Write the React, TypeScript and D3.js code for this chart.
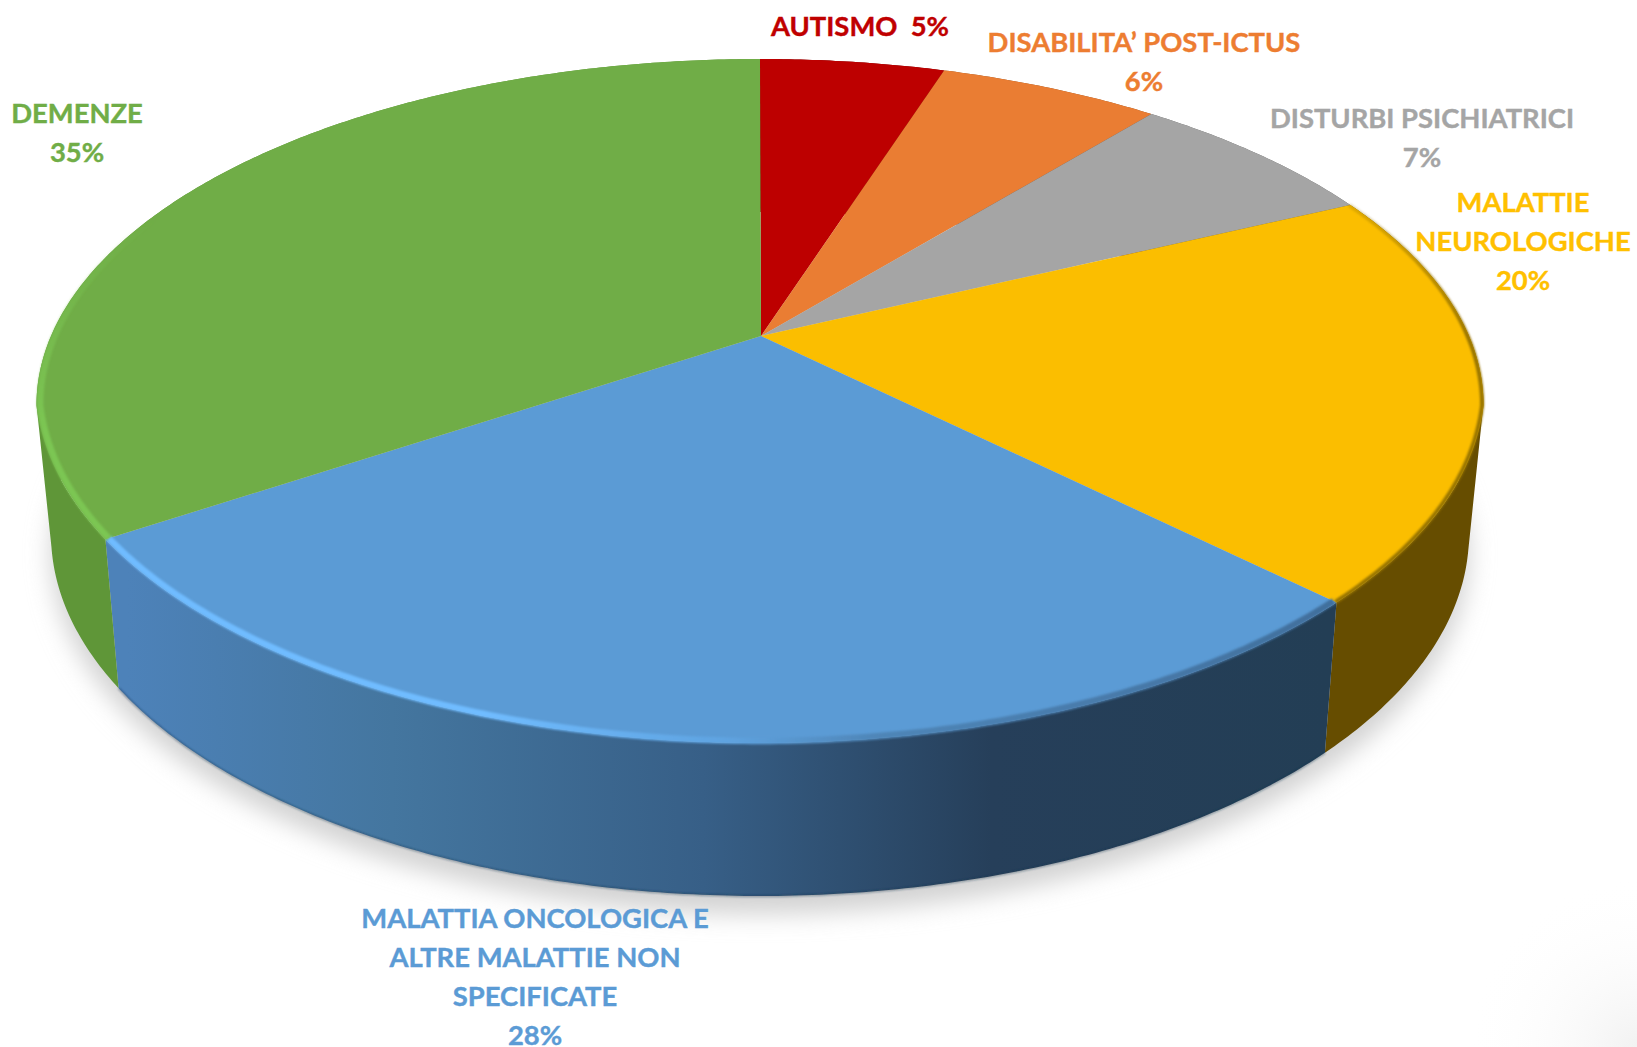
import React from "react";
import * as d3 from "d3";

// Share of each condition, clockwise from twelve o'clock
const categories = [
  "AUTISMO",
  "DISABILITA’ POST-ICTUS",
  "DISTURBI PSICHIATRICI",
  "MALATTIE NEUROLOGICHE",
  "MALATTIA ONCOLOGICA E ALTRE MALATTIE NON SPECIFICATE",
  "DEMENZE",
];
const percentages = [5, 6, 7, 20, 28, 35];

const faceColors = ["#bd0000", "#ea7d33", "#a5a5a5", "#fbbe00", "#5b9bd5", "#70ad47"];
const labelColors = ["#c00000", "#ed7d31", "#a5a5a5", "#ffc000", "#5b9bd5", "#70ad47"];
const wallFills = ["#730000", "#8c4b1e", "#636363", "#664d00", "url(#wallBlue)", "#5f9638"];

// Broken label lines and their anchor (centre x, first baseline)
const labelLines = [
  ["AUTISMO  5%"],
  ["DISABILITA’ POST-ICTUS", "6%"],
  ["DISTURBI PSICHIATRICI", "7%"],
  ["MALATTIE", "NEUROLOGICHE", "20%"],
  ["MALATTIA ONCOLOGICA E", "ALTRE MALATTIE NON", "SPECIFICATE", "28%"],
  ["DEMENZE", "35%"],
];
const labelAnchors = [
  [860, 36],
  [1144, 52],
  [1422, 128],
  [1523, 212],
  [535, 928],
  [77, 123],
];

const WIDTH = 1637;
const HEIGHT = 1047;
const LINE_GAP = 39;

// The wedges meet at an apex above the rim's geometric centre (perspective)
const APEX_X = 761;
const APEX_Y = 336;
const TILT = 0.1902;

// Horizontal half-width and vertical shape of the top rim and of the base
const TOP_RIM = { cx: 760, a: 723.5 };
const FLOOR_RIM = { cx: 760, a: 709 };

type Pt = [number, number];

// Rim height for a point h along the half-ellipse (h = 0 at the side, 1 at top or bottom)
const topRimY = (h: number, below: boolean) =>
  below ? 388 + 355 * h + 17 * Math.exp(-h / 0.05) : 405 - 346 * h;
const floorRimY = (h: number, below: boolean) => (below ? 534 + 362 * h : 534 - 322 * h);

// Perspective image of the unit circle: horizontal position in [-1, 1] and side of the rim
const perspective = (angle: number) => {
  const u = Math.sin(angle);
  const v = -Math.cos(angle);
  const t = (u * Math.sqrt(1 - TILT * TILT)) / (1 - TILT * v);
  const clamped = Math.max(-1, Math.min(1, t));
  return { t: clamped, h: Math.sqrt(1 - clamped * clamped), below: v > TILT };
};

// A point on the top face, at fraction r of the way from the apex to the rim
const project = (angle: number, r = 1): Pt => {
  const { t, h, below } = perspective(angle);
  const x = TOP_RIM.cx + TOP_RIM.a * t;
  const y = topRimY(h, below);
  return [APEX_X + (x - APEX_X) * r, APEX_Y + (y - APEX_Y) * r];
};

const projectFloor = (angle: number): Pt => {
  const { t, h, below } = perspective(angle);
  return [FLOOR_RIM.cx + FLOOR_RIM.a * t, floorRimY(h, below)];
};

const sampleAngles = (a0: number, a1: number) => {
  const steps = Math.max(8, Math.ceil((a1 - a0) / 0.01));
  return d3.range(steps + 1).map((i) => a0 + ((a1 - a0) * i) / steps);
};

const linePath = d3.line<Pt>();

// The wall is swept as quads from rim to base, so that its outline follows
// the tangent between the two rims on the far left and right
const wallPath = (a0: number, a1: number) => {
  const angles = sampleAngles(a0, a1);
  return d3
    .pairs(angles)
    .map(([p, q]) => {
      const quad: Pt[] = [project(p), project(q), projectFloor(q), projectFloor(p)];
      if (d3.polygonArea(quad) < 0) quad.reverse();
      return linePath(quad) + "Z";
    })
    .join("");
};

export default function App() {
  const slices = d3.pie<number>().sort(null)(percentages);
  const fullCircle = sampleAngles(0, 2 * Math.PI);

  return (
    <svg
      width={WIDTH}
      height={HEIGHT}
      viewBox={`0 0 ${WIDTH} ${HEIGHT}`}
      style={{ position: "absolute", left: 0, top: 0, display: "block", background: "#fff" }}
    >
      <defs>
        <filter id="shadowBlur" x="-10%" y="-10%" width="120%" height="120%">
          <feGaussianBlur stdDeviation="12" />
        </filter>
        <filter id="rimBlur" x="-5%" y="-5%" width="110%" height="110%">
          <feGaussianBlur stdDeviation="1" />
        </filter>
        <linearGradient id="wallBlue" gradientUnits="userSpaceOnUse" x1="128" x2="1328" y1="0" y2="0">
          <stop offset="0" stopColor="#4d82b9" />
          <stop offset="0.22" stopColor="#44769f" />
          <stop offset="0.48" stopColor="#375f87" />
          <stop offset="0.72" stopColor="#263f5a" />
          <stop offset="1" stopColor="#233e55" />
        </linearGradient>
        <linearGradient id="rimBlue" gradientUnits="userSpaceOnUse" x1="115" x2="1340" y1="0" y2="0">
          <stop offset="0" stopColor="#70bcff" />
          <stop offset="0.3" stopColor="#70bcff" />
          <stop offset="0.5" stopColor="#5fa3e0" />
          <stop offset="0.62" stopColor="#4f86b8" />
          <stop offset="1" stopColor="#416f9c" />
        </linearGradient>
        <linearGradient id="rimGreen" gradientUnits="userSpaceOnUse" x1="0" x2="0" y1="220" y2="430">
          <stop offset="0" stopColor="#7cc653" stopOpacity="0" />
          <stop offset="1" stopColor="#7cc653" />
        </linearGradient>
        <linearGradient id="rimYellow" gradientUnits="userSpaceOnUse" x1="0" x2="0" y1="190" y2="340">
          <stop offset="0" stopColor="#967300" stopOpacity="0.2" />
          <stop offset="1" stopColor="#967300" />
        </linearGradient>
        <radialGradient id="cornerShade" gradientUnits="userSpaceOnUse" cx={WIDTH} cy={HEIGHT} r="170">
          <stop offset="0" stopColor="#f2f2f2" />
          <stop offset="1" stopColor="#ffffff" stopOpacity="0" />
        </radialGradient>
      </defs>

      <rect x={WIDTH - 170} y={HEIGHT - 170} width={170} height={170} fill="url(#cornerShade)" />

      {/* Soft ground shadow */}
      <path
        d={linePath(fullCircle.map(projectFloor))! + "Z"}
        transform="translate(0 18)"
        fill="#d2d2d2"
        filter="url(#shadowBlur)"
      />

      {/* Side walls */}
      {slices.map((s, i) => (
        <path key={i} d={wallPath(s.startAngle, s.endAngle)} fill={wallFills[i]} />
      ))}

      {/* Dark line under the blue wall */}
      <path
        d={linePath(sampleAngles(slices[4].startAngle, slices[4].endAngle).map(projectFloor))!}
        fill="none"
        stroke="#1d3850"
        strokeOpacity={0.6}
        strokeWidth={1.5}
        filter="url(#rimBlur)"
      />

      {/* Top faces, each a wedge from the apex to the rim */}
      {slices.map((s, i) => {
        const outline: Pt[] = [
          [APEX_X, APEX_Y],
          ...sampleAngles(s.startAngle, s.endAngle).map((a) => project(a)),
        ];
        return <path key={i} d={linePath(outline)! + "Z"} fill={faceColors[i]} />;
      })}

      {/* Bevel along the rim of the three front slices */}
      {[
        { index: 3, stroke: "url(#rimYellow)", r: 0.998, width: 4 },
        { index: 4, stroke: "url(#rimBlue)", r: 0.995, width: 6.5 },
        { index: 5, stroke: "url(#rimGreen)", r: 0.995, width: 6.5 },
      ].map(({ index, stroke, r, width }) => (
        <path
          key={index}
          d={linePath(
            sampleAngles(slices[index].startAngle, slices[index].endAngle).map((a) => project(a, r)),
          )!}
          fill="none"
          stroke={stroke}
          strokeWidth={width}
          filter="url(#rimBlur)"
        />
      ))}

      {/* Labels */}
      <g fontFamily="Lato" fontWeight={700} fontSize={27.4} textAnchor="middle" strokeWidth={0.4}>
        {labelLines.map((lines, i) =>
          lines.map((line, j) => (
            <text
              key={`${i}-${j}`}
              x={labelAnchors[i][0]}
              y={labelAnchors[i][1] + j * LINE_GAP}
              fill={labelColors[i]}
              stroke={labelColors[i]}
              style={{ whiteSpace: "pre" }}
              data-category={categories[i]}
            >
              {line}
            </text>
          )),
        )}
      </g>
    </svg>
  );
}
